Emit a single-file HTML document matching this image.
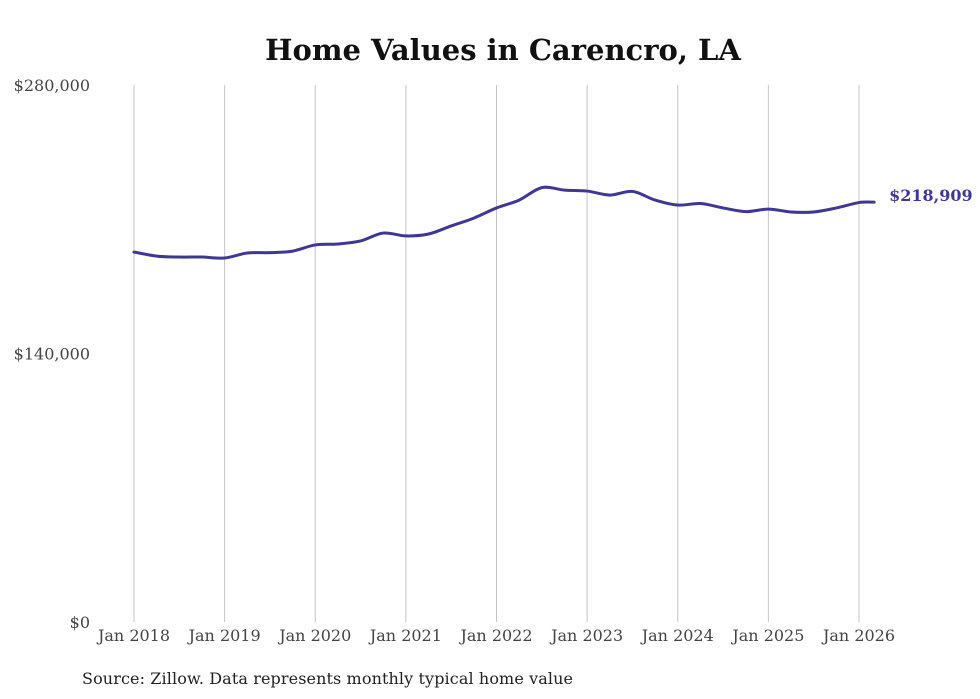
<!DOCTYPE html>
<html><head><meta charset="utf-8"><style>
body{margin:0;background:#fff;width:980px;height:699px;overflow:hidden}
svg{display:block}
</style></head><body>
<svg id="chart" width="980" height="699">
<text x="503" y="60" text-anchor="middle" font-family="'DejaVu Serif','Liberation Serif',serif" font-weight="bold" font-size="29" fill="#111">Home Values in Carencro, LA</text>
<g id="grid"></g><g id="yaxis"></g><g id="xaxis"></g><g id="series"></g>
<text x="82" y="684" font-family="'DejaVu Serif','Liberation Serif',serif" font-size="16" textLength="491" fill="#222">Source: Zillow. Data represents monthly typical home value</text>
</svg>
<script>
const months=[0,3,6,9,12,15,18,21,24,27,30,33,36,39,42,45,48,51,54,57,60,63,66,69,72,75,78,81,84,87,90,93,96,98];
const values=[192900,190800,190300,190300,189800,192400,192600,193400,196600,197100,198700,202800,201300,202300,206500,210600,215900,220000,226500,225200,224700,222600,224500,220000,217400,218200,215900,214000,215300,213800,213800,215900,218700,218909];
const yTicks=[0,140000,280000];
const yTickLabels=["$0","$140,000","$280,000"];
const xTickMonths=[0,12,24,36,48,60,72,84,96];
const xTickLabels=["Jan 2018","Jan 2019","Jan 2020","Jan 2021","Jan 2022","Jan 2023","Jan 2024","Jan 2025","Jan 2026"];
const lastLabel="$218,909";
const NS="http://www.w3.org/2000/svg";
const x=m=>134+m*(859-134)/96;
const y=v=>622-v*(622-85)/280000;
function mk(t,a,p,txt){const e=document.createElementNS(NS,t);for(const k in a)e.setAttribute(k,a[k]);if(txt)e.textContent=txt;p.appendChild(e);return e;}
const grid=document.getElementById('grid'),ya=document.getElementById('yaxis'),xa=document.getElementById('xaxis'),se=document.getElementById('series');
xTickMonths.forEach((m,i)=>{
 const l=mk('line',{x1:x(m),x2:x(m),y1:85,y2:622,stroke:'#c4c4c4','stroke-width':1},grid);
 
 
 const t=mk('text',{x:x(m),y:641,'text-anchor':'middle','font-family':"'DejaVu Serif','Liberation Serif',serif",'font-size':16,fill:'#444'},xa,xTickLabels[i]);
 
 
});
yTicks.forEach((v,i)=>{
 const t=mk('text',{x:90,y:y(v)+6,'text-anchor':'end','font-family':"'DejaVu Serif','Liberation Serif',serif",'font-size':16,fill:'#444'},ya,yTickLabels[i]);
 
 
});
const pts=months.map((m,i)=>[x(m),y(values[i])]);
let d='M'+pts[0][0]+','+pts[0][1];
for(let i=0;i<pts.length-1;i++){
 const p0=pts[Math.max(0,i-1)],p1=pts[i],p2=pts[i+1],p3=pts[Math.min(pts.length-1,i+2)];
 const c1=[p1[0]+(p2[0]-p0[0])/6,p1[1]+(p2[1]-p0[1])/6],c2=[p2[0]-(p3[0]-p1[0])/6,p2[1]-(p3[1]-p1[1])/6];
 d+=` C${c1[0]},${c1[1]} ${c2[0]},${c2[1]} ${p2[0]},${p2[1]}`;
}
const path=mk('path',{d:d,fill:'none',stroke:'#3f3794','stroke-width':3,'stroke-linecap':'round'},se);


const lp=pts[pts.length-1];
const lt=mk('text',{x:lp[0]+15,y:lp[1]-1,'font-family':"'DejaVu Serif','Liberation Serif',serif",'font-weight':'bold','font-size':16,fill:'#3f3794'},se,lastLabel);


</script>
</body></html>
